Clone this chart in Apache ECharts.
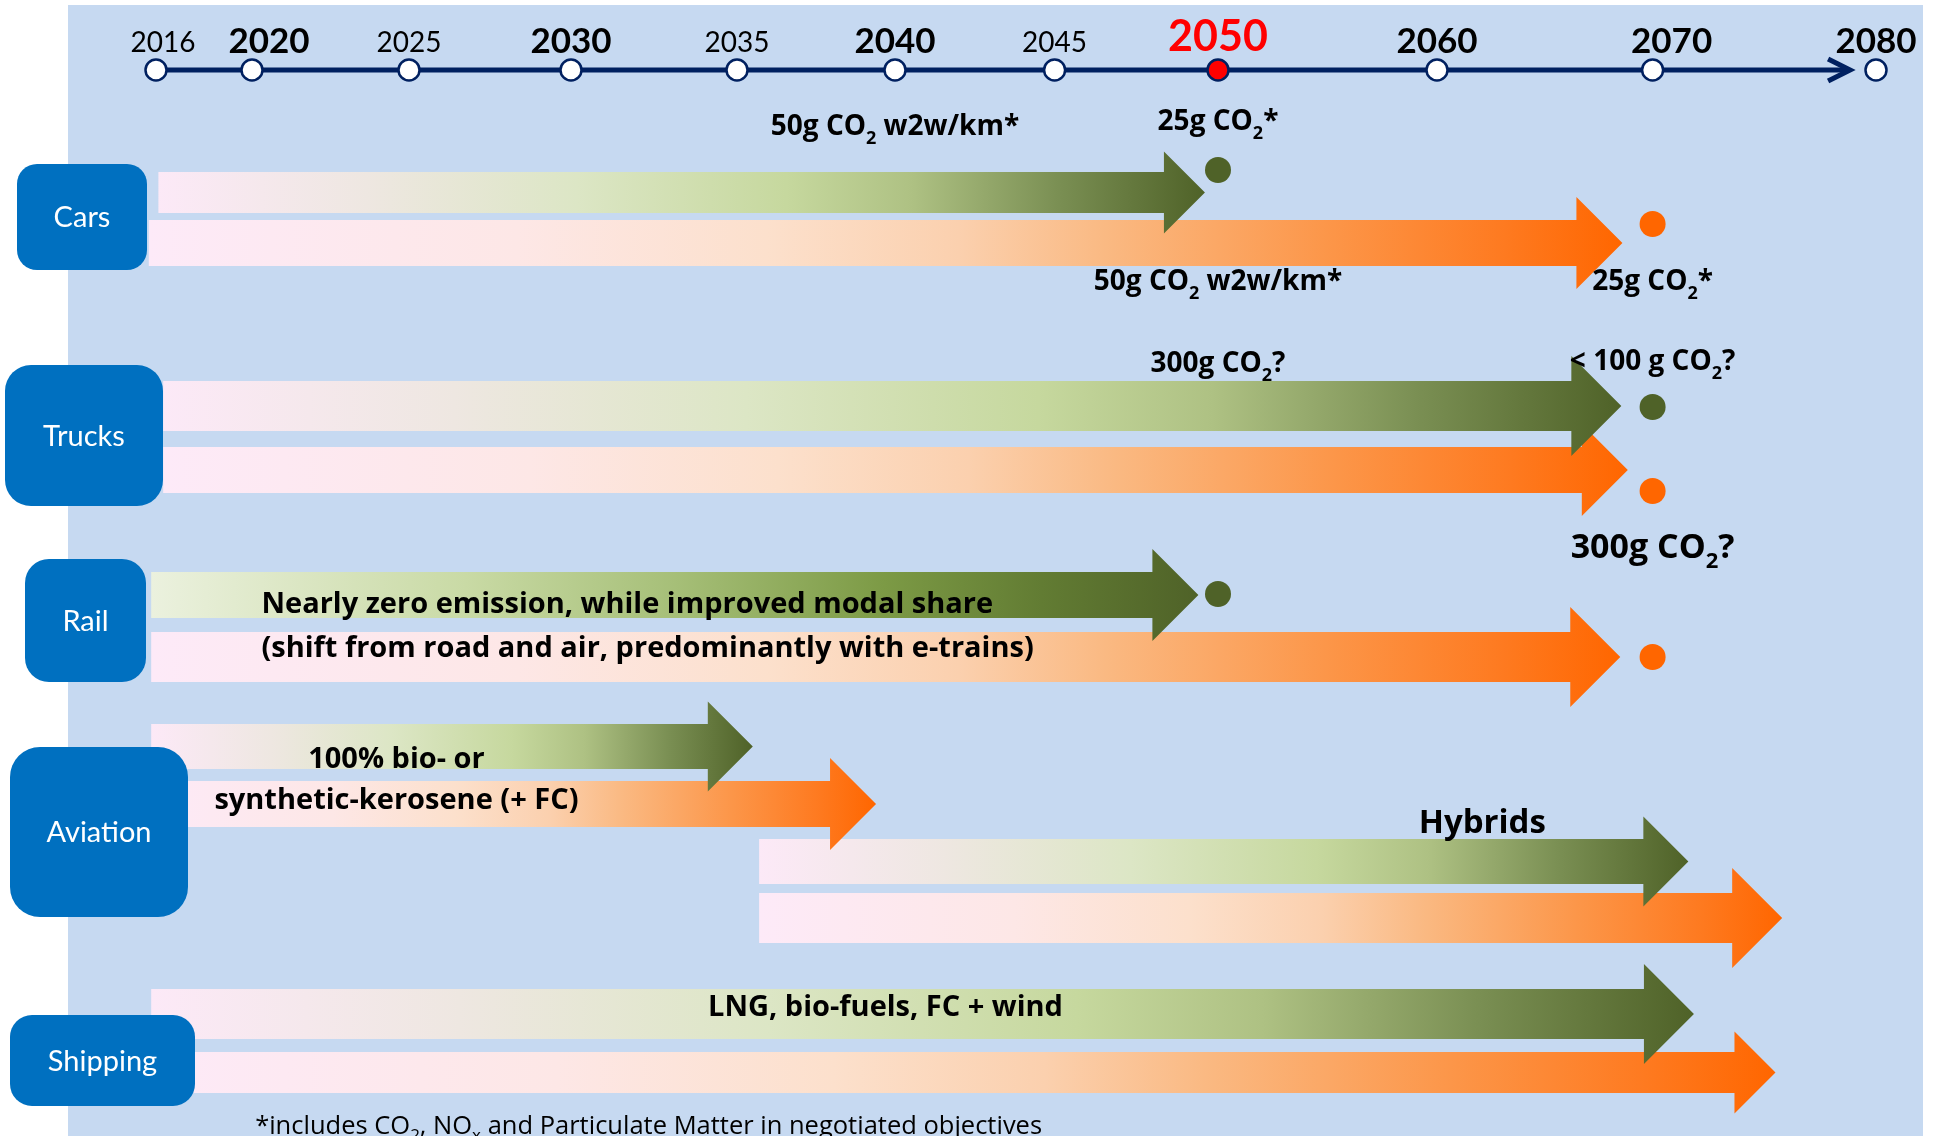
<!DOCTYPE html>
<html><head><meta charset="utf-8">
<script src="https://cdn.jsdelivr.net/npm/echarts@6/dist/echarts.min.js"></script>
<style>html,body{margin:0;padding:0;background:#fff}#main{width:1936px;height:1136px}</style>
</head><body><div id="main"></div>
<script>
// ================= DATA =================
const tickYears  = [2016, 2020, 2025, 2030, 2035, 2040, 2045, 2050, 2060, 2070, 2080];
const tickLabels = ['2016','2020','2025','2030','2035','2040','2045','2050','2060','2070','2080'];
const tickKind   = ['minor','major','minor','major','minor','major','minor','key','major','major','major'];

const categories = ['Cars', 'Trucks', 'Rail', 'Aviation', 'Shipping'];

// arrows: category, colour family, start year, year reached by the arrow tip
const arrowCategory = ['Cars','Cars','Trucks','Trucks','Rail','Rail','Aviation','Aviation','Aviation','Aviation','Shipping','Shipping'];
const arrowKind     = ['green','orange','green','orange','railgreen','orange','green','orange','green','orange','green','orange'];
const arrowStart    = [2016.1, 2015.7, 2016.3, 2016.3, 2015.8, 2015.8, 2015.8, 2015.8, 2035.7, 2035.7, 2015.8, 2015.8];
const arrowEnd      = [2049.6, 2068.6, 2068.55, 2068.85, 2049.4, 2068.5, 2035.5, 2039.4, 2071.6, 2075.8, 2071.85, 2075.5];

// target dots
const targetCategory = ['Cars','Cars','Trucks','Trucks','Rail','Rail'];
const targetKind     = ['green','orange','green','orange','green','orange'];
const targetYear     = [2050, 2070, 2070, 2070, 2050, 2070];

// annotations (anchor year on the timeline)
const noteTexts = [
  '50g CO₂ w2w/km*', '25g CO₂*', '50g CO₂ w2w/km*', '25g CO₂*',
  '300g CO₂?', '< 100 g CO₂?', '300g CO₂?',
  'Nearly zero emission, while improved modal share',
  '(shift from road and air, predominantly with e-trains)',
  '100% bio- or', 'synthetic-kerosene (+ FC)',
  'Hybrids', 'LNG, bio-fuels, FC + wind',
  '*includes CO₂, NOₓ and Particulate Matter in negotiated objectives'
];
const noteYears = [2040, 2050, 2050, 2070, 2050, 2070, 2070, 2020.3, 2020.3, 2024.6, 2024.6, 2062.1, 2039.7, 2020.1];

// ================= LAYOUT / STYLE =================
const W = 1936, H = 1136;
const FONT = 'Lato';
const NOTE_FONT = 'Open Sans';
const L = {
  tickSlot: [156, 252, 409, 571, 737, 895, 1054.6, 1218, 1437, 1652.6, 1876],
  tickLabelDx: [7, 17, 0, 0, 0, 0, 0, 0, 0, 19, 0],
  timelineY: 70,
  axisTipYear: 2078.84,
  tickLabelY: {minor: 43, major: 41.5, key: 37.5},
  tickFont: {minor: [28, 'normal', '#000000'], major: [35, 'bold', '#000000'], key: [43, 'bold', '#FF0000']},
  arrowY: [192.5, 243, 406, 470, 595, 657, 746.5, 804, 861.5, 918, 1014, 1072.5],
  arrowH: [41, 46, 50, 46, 46, 50, 45, 46, 45, 50, 50, 41],
  targetY: [170, 224, 407, 491, 594, 657],
  // x, y, w, h, radius
  boxes: [[17,164,130,106,20],[5,365,158,141,26],[25,559,121,123,24],[10,747,178,170,30],[10,1015,185,91,22]],
  noteY:     [127.5, 122.5, 282.5, 282.5, 364.5, 362.5, 548.5, 605, 649, 759.5, 800.5, 823.5, 1007.5, 1126.5],
  noteSize:  [28, 28, 28, 28, 28, 28, 34, 29, 29, 29, 29, 33, 29, 25.5],
  noteWeight:['bold','bold','bold','bold','bold','bold','bold','bold','bold','bold','bold','bold','bold','normal'],
  noteAlign: ['center','center','center','center','center','center','center','left','left','center','center','center','center','left']
};
const GRAD = {
  green: [[0,'#FCE9F7'],[0.2,'#EEE7E1'],[0.4,'#DCE6C5'],[0.6,'#C6D89E'],[0.72,'#AEC183'],[0.86,'#7A8F53'],[1,'#4F6228']],
  railgreen: [[0,'#EBF1DE'],[0.3,'#C9DAA5'],[0.5,'#A6BF78'],[0.7,'#7C9A45'],[0.85,'#627C33'],[1,'#4F6228']],
  orange: [[0,'#FDEAF8'],[0.25,'#FDE7E6'],[0.42,'#FCE0CC'],[0.55,'#FBD0AE'],[0.65,'#FAB982'],[0.8,'#FC9649'],[0.92,'#FE7A20'],[1,'#FF6600']]
};
const DOT = {green: '#4F6228', orange: '#FF6600'};

// piecewise timeline scale: year -> axis position
function yearToPos(y) {
  const n = tickYears.length;
  let i = 0;
  if (y >= tickYears[n - 1]) i = n - 2;
  else if (y > tickYears[0]) { while (y > tickYears[i + 1]) i++; }
  const t = (y - tickYears[i]) / (tickYears[i + 1] - tickYears[i]);
  return L.tickSlot[i] + t * (L.tickSlot[i + 1] - L.tickSlot[i]);
}

function richFor(F, weight, color) {
  return {
    m: {fontSize: F, fontFamily: NOTE_FONT, fontWeight: weight, fill: color, lineHeight: Math.round(F * 1.5)},
    s: {fontSize: Math.round(F * 0.65), fontFamily: NOTE_FONT, fontWeight: weight, fill: color,
        lineHeight: Math.round(F * 0.65), padding: [Math.round(F * 0.78), 0, 0, 0]}
  };
}
function toRich(t) {
  let out = '', buf = '';
  for (const ch of t) {
    if (ch === '₂' || ch === 'ₓ') {
      if (buf) { out += '{m|' + buf + '}'; buf = ''; }
      out += '{s|' + (ch === '₂' ? '2' : 'x') + '}';
    } else buf += ch;
  }
  if (buf) out += '{m|' + buf + '}';
  return out;
}

const chart = echarts.init(document.getElementById('main'), null, {renderer: 'canvas', width: W, height: H});

const option = {
  backgroundColor: '#ffffff',
  animation: false,
  grid: {left: 0, right: 0, top: 0, bottom: 0},
  xAxis: {type: 'value', min: 0, max: W, show: false},
  yAxis: {type: 'value', min: 0, max: H, inverse: true, show: false},
  graphic: [{type: 'rect', z: -1, silent: true, shape: {x: 68, y: 5, width: 1855, height: 1131}, style: {fill: '#C6D9F1'}}],
  series: [
    // arrows
    {
      type: 'custom', z: 2,
      data: arrowStart.map((s, i) => [yearToPos(s), yearToPos(arrowEnd[i]), L.arrowY[i], i]),
      renderItem: function (params, api) {
        const i = api.value(3);
        const p0 = api.coord([api.value(0), api.value(2)]);
        const p1 = api.coord([api.value(1), api.value(2)]);
        const h = api.size([0, L.arrowH[i]])[1];
        const x0 = p0[0], x1 = p1[0], yc = p0[1], hb = h / 2;
        return {
          type: 'polygon', z2: 100 - i,
          shape: {points: [[x0, yc - hb], [x1 - h, yc - hb], [x1 - h, yc - h], [x1, yc], [x1 - h, yc + h], [x1 - h, yc + hb], [x0, yc + hb]]},
          style: {fill: new echarts.graphic.LinearGradient(0, 0, 1, 0, GRAD[arrowKind[i]].map(s => ({offset: s[0], color: s[1]})))}
        };
      }
    },
    // target dots
    {
      type: 'custom', z: 3,
      data: targetYear.map((y, i) => [yearToPos(y), L.targetY[i], i]),
      renderItem: function (params, api) {
        const i = api.value(2);
        const p = api.coord([api.value(0), api.value(1)]);
        return {type: 'circle', shape: {cx: p[0], cy: p[1], r: 13}, style: {fill: DOT[targetKind[i]]}};
      }
    },
    // timeline axis line with arrow
    {
      type: 'custom', z: 3,
      data: [[yearToPos(tickYears[0]), yearToPos(L.axisTipYear), L.timelineY]],
      renderItem: function (params, api) {
        const a = api.coord([api.value(0), api.value(2)]);
        const b = api.coord([api.value(1), api.value(2)]);
        return {type: 'group', children: [
          {type: 'line', shape: {x1: a[0], y1: a[1], x2: b[0] - 2, y2: b[1]}, style: {stroke: '#002060', lineWidth: 5}},
          {type: 'polyline', shape: {points: [[b[0] - 22, b[1] - 11], [b[0], b[1]], [b[0] - 22, b[1] + 11]]},
           style: {stroke: '#002060', lineWidth: 5, fill: null, lineJoin: 'miter'}}
        ]};
      }
    },
    // timeline ticks
    {
      type: 'custom', z: 4,
      data: tickYears.map((y, i) => [yearToPos(y), L.timelineY, i]),
      renderItem: function (params, api) {
        const i = api.value(2);
        const p = api.coord([api.value(0), api.value(1)]);
        const k = tickKind[i];
        const f = L.tickFont[k];
        const ly = api.coord([0, L.tickLabelY[k]])[1];
        return {type: 'group', children: [
          {type: 'circle', shape: {cx: p[0], cy: p[1], r: 10.5},
           style: {fill: k === 'key' ? '#FF0000' : '#FFFFFF', stroke: '#002060', lineWidth: 2.5}},
          {type: 'text', x: p[0] + L.tickLabelDx[i], y: ly,
           style: {text: tickLabels[i], fontFamily: FONT, fontSize: f[0], fontWeight: f[1], fill: f[2],
                   align: 'center', verticalAlign: 'middle'}}
        ]};
      }
    },
    // category boxes
    {
      type: 'custom', z: 5,
      data: categories.map((c, i) => [L.boxes[i][0], L.boxes[i][1], i]),
      renderItem: function (params, api) {
        const i = api.value(2);
        const b = L.boxes[i];
        const p = api.coord([b[0], b[1]]);
        const s = api.size([b[2], b[3]]);
        return {type: 'group', children: [
          {type: 'rect', shape: {x: p[0], y: p[1], width: s[0], height: s[1], r: b[4]}, style: {fill: '#0070C0'}},
          {type: 'text', x: p[0] + s[0] / 2, y: p[1] + s[1] / 2 + 1,
           style: {text: categories[i], fontFamily: FONT, fontSize: 29, fontWeight: 'normal', fill: '#FFFFFF',
                   align: 'center', verticalAlign: 'middle'}}
        ]};
      }
    },
    // annotations
    {
      type: 'custom', z: 6,
      data: noteYears.map((y, i) => [yearToPos(y), L.noteY[i], i]),
      renderItem: function (params, api) {
        const i = api.value(2);
        const p = api.coord([api.value(0), api.value(1)]);
        return {type: 'text', x: p[0], y: p[1],
          style: {text: toRich(noteTexts[i]), rich: richFor(L.noteSize[i], L.noteWeight[i], '#000000'),
                  fontFamily: NOTE_FONT, fontSize: L.noteSize[i], fontWeight: L.noteWeight[i], fill: '#000000',
                  align: L.noteAlign[i], verticalAlign: 'middle'}};
      }
    }
  ]
};
chart.setOption(option);
</script>
</body></html>
